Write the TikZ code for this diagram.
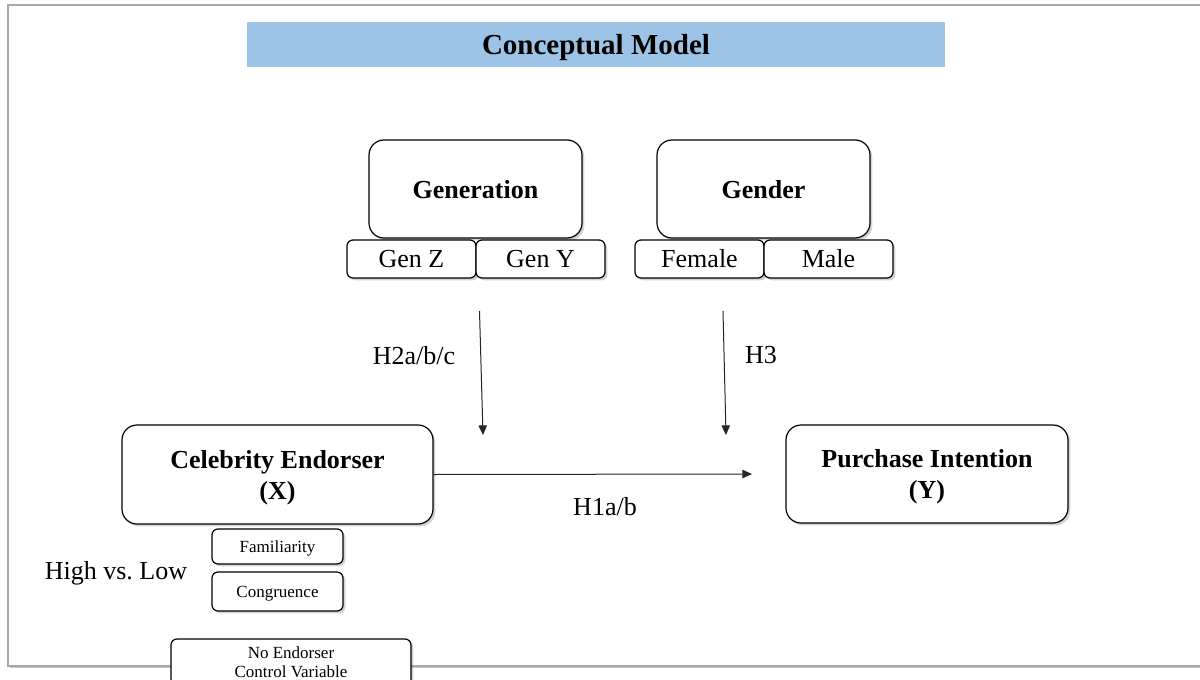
\documentclass[tikz,border=0pt]{standalone}
\usepackage{fontspec}
\setmainfont{Liberation Serif}
\usetikzlibrary{arrows.meta,positioning,shadows}
\definecolor{titleblue}{HTML}{9DC3E6}
\definecolor{framegrey}{HTML}{A8A8A8}

\begin{document}
\begin{tikzpicture}[x=0.5pt,y=-0.5pt,
  boxshadow/.style={drop shadow={shadow xshift=1.2pt,shadow yshift=-1.2pt,opacity=0.35}},
  bigbox/.style={draw,line width=0.6pt,rounded corners=7.5pt,fill=white,boxshadow,
    align=center,inner sep=0pt,text depth=0pt,font=\bfseries\fontsize{13}{15.5}\selectfont},
  levelbox/.style={draw,line width=0.6pt,rounded corners=3pt,fill=white,boxshadow,
    inner sep=0pt,minimum width=64.5pt,minimum height=19pt,font=\fontsize{13}{15}\selectfont},
  smallbox/.style={draw,line width=0.6pt,rounded corners=3pt,fill=white,boxshadow,
    align=center,inner sep=0pt,text depth=-1.5pt,font=\fontsize{8.5}{9.5}\selectfont},
  hyplabel/.style={font=\fontsize{13}{15}\selectfont},
  patharrow/.style={line width=0.5pt,black!85,-{Triangle[length=4.8pt,width=4.2pt]}}]
  \useasboundingbox (0,0) rectangle (1200,680);
  % slide frame
  \draw[framegrey,line width=0.6pt,fill=white,
    drop shadow={shadow xshift=0.8pt,shadow yshift=-1.2pt,opacity=0.45}]
    (8,5) rectangle (1230,666);
  % title bar
  \node[fill=titleblue,minimum width=349pt,minimum height=22.5pt,inner sep=0pt,
    text height=9.6pt,text depth=0pt,
    font=\bfseries\fontsize{14.5}{16}\selectfont] (title) at (596,44.5) {Conceptual Model};
  % moderators
  \node[bigbox,minimum width=106.5pt,minimum height=49pt] (gen) at (475.5,189) {Generation};
  \node[bigbox,minimum width=106.5pt,minimum height=49pt] (gender) at (763.5,189) {Gender};
  \node[levelbox] (genz) at (411.5,259) {Gen Z};
  \node[levelbox] (geny) at (540.5,259) {Gen Y};
  \node[levelbox] (female) at (699.5,259) {Female};
  \node[levelbox] (male) at (828.5,259) {Male};
  % independent and dependent variable
  \node[bigbox,minimum width=155.5pt,minimum height=49.5pt] (celeb) at (277.5,474.5)
    {Celebrity Endorser\\(X)};
  \node[bigbox,minimum width=141pt,minimum height=49pt] (purchase) at (927,474)
    {Purchase Intention\\(Y)};
  % levels of X
  \node[smallbox,minimum width=65.5pt,minimum height=17.5pt] (famil) at (277.5,546.5) {Familiarity};
  \node[smallbox,minimum width=65.5pt,minimum height=19.5pt] (congr) at (277.5,591.5) {Congruence};
  \node[hyplabel] (highlow) at (116,573.5) {High vs.\ Low};
  \node[smallbox,minimum width=120pt,minimum height=23pt] (noend) at (291,662)
    {No Endorser\\Control Variable};
  % hypothesised paths
  \coordinate (h2start) at (479.5,311);
  \coordinate (h2end) at (483,435);
  \coordinate (h3start) at (723,311);
  \coordinate (h3end) at (726,435);
  \coordinate (h1end) at (752,474);
  \draw[patharrow] (h2start) -- (h2end);
  \draw[patharrow] (h3start) -- (h3end);
  \draw[patharrow] (celeb.east) -- (h1end);
  \node[hyplabel] (h2lab) at (414,355.5) {H2a/b/c};
  \node[hyplabel] (h3lab) at (761,355.5) {H3};
  \node[hyplabel] (h1lab) at (605,506.5) {H1a/b};
\end{tikzpicture}
\end{document}
